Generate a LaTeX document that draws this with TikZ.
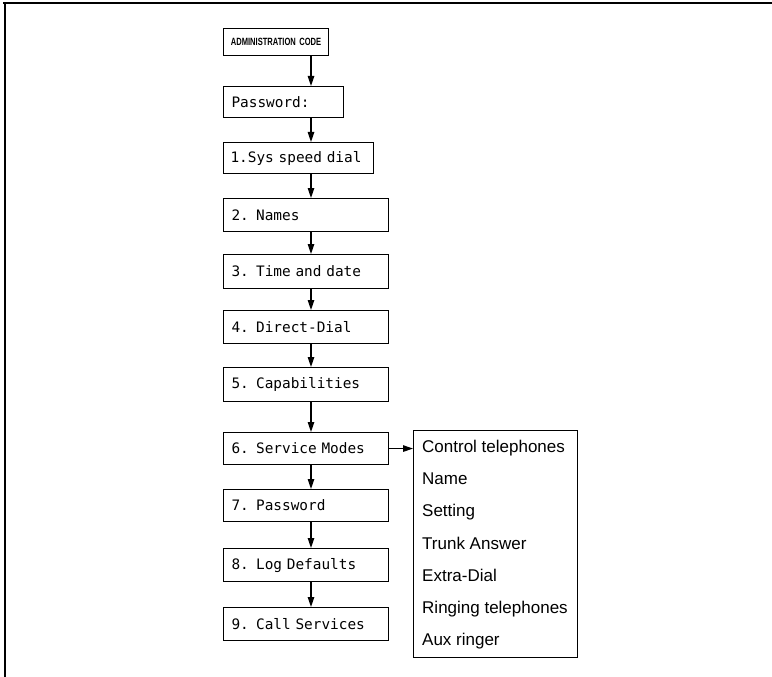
\documentclass[tikz,border=0pt]{standalone}
\usepackage{fontspec}
\setmainfont{Liberation Sans}
\newfontfamily\lcdfont{DejaVu Sans Mono}
\newfontfamily\narrowfont[FakeStretch=0.72]{Liberation Sans}
\usetikzlibrary{arrows.meta,positioning}

\begin{document}
\begin{tikzpicture}[
    x=1pt, y=-1pt,
    menu/.style={draw,line width=1.1pt,anchor=north west,inner xsep=8pt,inner ysep=0pt,align=left,font=\lcdfont\fontsize{14.4}{16}\selectfont},
    flow/.style={line width=1.2pt,-{Triangle[length=10pt,width=6.5pt]}},
    choice/.style={anchor=base west,inner sep=0pt,font=\fontsize{17}{20}\selectfont},
]
\useasboundingbox (0,0) rectangle (772,677);

% Frame of the page
\draw[line width=1.4pt] (3,3) -- (772,3);
\draw[line width=1.4pt] (5,3) -- (5,677);

% Column of menu steps
\coordinate (spine) at (311,0);
\node[menu,align=center,inner xsep=0pt,text width=105pt,minimum height=27pt,font=\narrowfont\bfseries\fontsize{10.5}{12}\selectfont] (admin) at (223,28) {ADMINISTRATION CODE};
\node[menu,text width=104pt,minimum height=31pt] (pwd) at (223,86) {Password:};
\node[menu,inner xsep=7pt,text width=136pt,minimum height=31pt] (sysdial) at (223,142) {1.Sys speed dial};
\node[menu,text width=149pt,minimum height=33pt] (names) at (223,198) {2. Names};
\node[menu,text width=149pt,minimum height=34pt] (timedate) at (223,254) {3. Time and date};
\node[menu,text width=149pt,minimum height=33pt] (directdial) at (223,310) {4. Direct-Dial};
\node[menu,text width=149pt,minimum height=34pt] (capab) at (223,367) {5. Capabilities};
\node[menu,text width=149pt,minimum height=32pt] (svcmodes) at (223,432) {6. Service Modes};
\node[menu,text width=149pt,minimum height=32pt] (newpwd) at (223,489) {7. Password};
\node[menu,text width=149pt,minimum height=33pt] (logdef) at (223,548) {8. Log Defaults};
\node[menu,text width=149pt,minimum height=33pt] (callsvc) at (223,607) {9. Call Services};

% Service mode choices
\node[draw,line width=1.1pt,anchor=north west,inner sep=0pt,minimum width=164pt,minimum height=227pt] (modes) at (413,430) {};
\foreach \txt [count=\i] in {Control telephones,Name,Setting,Trunk Answer,Extra-Dial,Ringing telephones,Aux ringer}
    \node[choice] (choice\i) at (422,{452.5+32.2*(\i-1)}) {\txt};

% Connections
\draw[flow] (admin.south -| spine) -- (pwd.north -| spine);
\draw[flow] (pwd.south -| spine) -- (sysdial.north -| spine);
\draw[flow] (sysdial.south -| spine) -- (names.north -| spine);
\draw[flow] (names.south -| spine) -- (timedate.north -| spine);
\draw[flow] (timedate.south -| spine) -- (directdial.north -| spine);
\draw[flow] (directdial.south -| spine) -- (capab.north -| spine);
\draw[flow] (capab.south -| spine) -- (svcmodes.north -| spine);
\draw[flow] (svcmodes.south -| spine) -- (newpwd.north -| spine);
\draw[flow] (newpwd.south -| spine) -- (logdef.north -| spine);
\draw[flow] (logdef.south -| spine) -- (callsvc.north -| spine);
\draw[flow] (svcmodes.east) -- (svcmodes.east -| modes.west);

\end{tikzpicture}
\end{document}
